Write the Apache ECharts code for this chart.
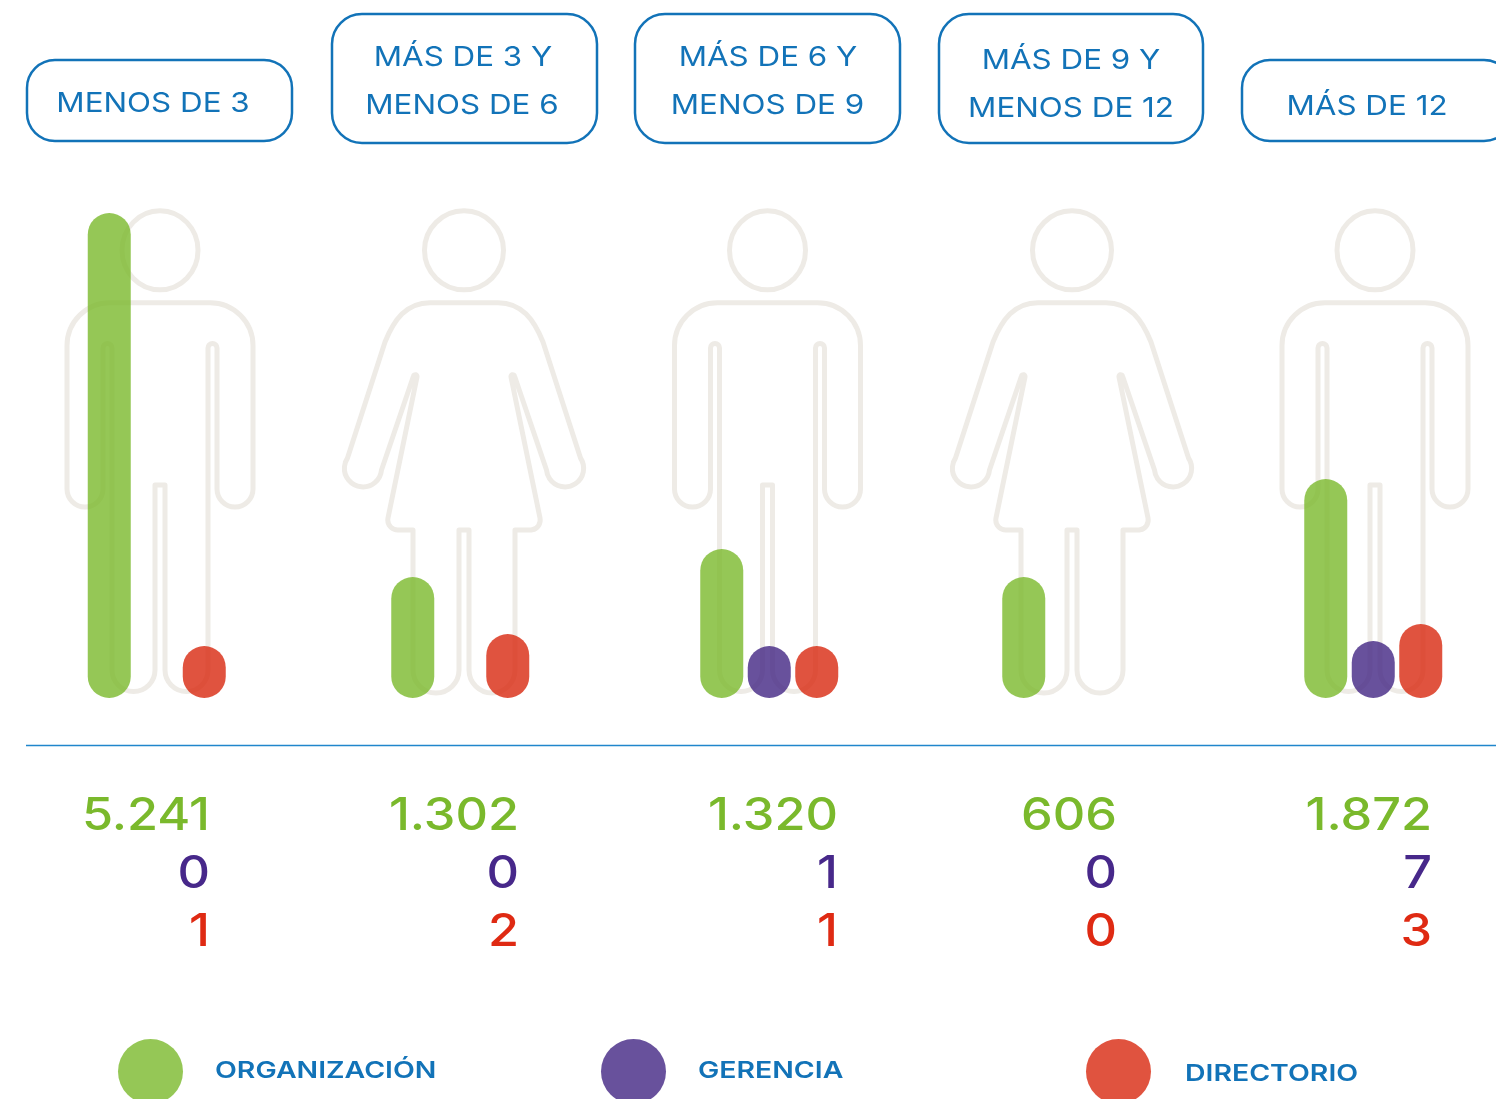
<!DOCTYPE html>
<html>
<head>
<meta charset="utf-8">
<style>html,body{margin:0;padding:0;background:#fff}#c{width:1496px;height:1099px}</style>
<script src="https://cdn.jsdelivr.net/npm/echarts@6/dist/echarts.min.js"></script>
</head>
<body>
<div id="c"></div>
<script>
// ---------- data ----------
const seriesNames = ['ORGANIZACIÓN', 'GERENCIA', 'DIRECTORIO'];
const tenureLabels = [['MENOS DE 3'], ['MÁS DE 3 Y', 'MENOS DE 6'], ['MÁS DE 6 Y', 'MENOS DE 9'], ['MÁS DE 9 Y', 'MENOS DE 12'], ['MÁS DE 12']];
const figures = ['man', 'woman', 'man', 'woman', 'man'];
// printed counts
const organizacion = [5241, 1302, 1320, 606, 1872];
const gerencia = [0, 0, 1, 0, 7];
const directorio = [1, 2, 1, 0, 3];
// bar lengths as drawn in the picture (not proportional to the counts)
const organizacionBars = [485, 121, 149, 121, 219];
const gerenciaBars = [null, null, 52, null, 57];
const directorioBars = [52, 64, 52, null, 74];

// ---------- layout ----------
const BLUE = '#1273b8';
const baseColors = ['#7ab92c', '#422683', '#d8280f'];
const textColors = ['#7ab92c', '#47288a', '#df2a13'];
const barOpacity = 0.8;
const FONT = 'Inter';
const gridLeft = [85.5, 389, 698, 1000, 1302];
const bandWidth = 47.5 * 3;
const figureX = [160, 464, 767.5, 1072, 1375];
const pills = [
  {x: 27, y: 60, w: 265, h: 81, r: 28, t: [[153, 103.5]]},
  {x: 332, y: 14, w: 265, h: 129, r: 30, t: [[463, 58], [462, 105.5]]},
  {x: 635, y: 14, w: 265, h: 129, r: 30, t: [[768, 58], [767.5, 105.5]]},
  {x: 939, y: 14, w: 264, h: 129, r: 30, t: [[1071, 60.5], [1071, 108.5]]},
  {x: 1242, y: 60, w: 270, h: 81, r: 28, t: [[1367, 106.5]]}
];
const numberRight = [210, 519, 838, 1117, 1432];
const numberY = [816, 874, 932];
const legendLeft = [118, 601, 1086];
const legendTextX = [215, 698, 1185];
const legendTextY = [1071, 1071, 1074];

const manPath = 'M-50 302.7L50 302.7A43 43 0 0 1 93 345.7L93 489A18 18 0 0 1 57 489L57 348A4.5 4.5 0 0 0 48 348L48 670A21.5 21.5 0 0 1 5 670L5 485L-5 485L-5 670A21.5 21.5 0 0 1 -48 670L-48 348A4.5 4.5 0 0 0 -57 348L-57 489A18 18 0 0 1 -93 489L-93 345.7A43 43 0 0 1 -50 302.7Z';
const womanPath = 'M-34 302.7L34 302.7C58 302.7 70 320 79 342L116.5 458A18.6 18.6 0 1 1 82.5 470L50.5 376A1.5 1.5 0 0 0 47 377L76 518A10 10 0 0 1 66 530L51 530L51 670A23 23 0 0 1 5 670L5 530L-5 530L-5 670A23 23 0 0 1 -51 670L-51 530L-66 530A10 10 0 0 1 -76 518L-47 377A1.5 1.5 0 0 0 -50.5 376L-82.5 470A18.6 18.6 0 1 1 -116.5 458L-79 342C-70 320 -58 302.7 -34 302.7Z';
echarts.graphic.registerShape('manFigure', echarts.graphic.extendPath(manPath));
echarts.graphic.registerShape('womanFigure', echarts.graphic.extendPath(womanPath));
const OUTLINE = {stroke: '#eeebe6', lineWidth: 5, fill: 'none', lineJoin: 'round'};

const fmt = v => String(v).replace(/\B(?=(\d{3})+$)/g, '.');
const graphics = [];

// figures
figures.forEach((f, i) => {
  graphics.push({type: f === 'man' ? 'manFigure' : 'womanFigure', x: figureX[i], y: 0, z: 0, style: Object.assign({}, OUTLINE)});
  graphics.push({type: 'ellipse', x: figureX[i], y: 250.3, z: 0, shape: {cx: 0, cy: 0, rx: f === 'man' ? 38 : 39.5, ry: 39.5}, style: Object.assign({}, OUTLINE)});
});

// pills
pills.forEach((p, i) => {
  graphics.push({type: 'rect', z: 0, shape: {x: p.x, y: p.y, width: p.w, height: p.h, r: p.r}, style: {stroke: BLUE, lineWidth: 2.5, fill: 'none'}});
  tenureLabels[i].forEach((line, k) => {
    graphics.push({type: 'text', z: 1, x: p.t[k][0], y: p.t[k][1], scaleX: 1.14, style: {text: line, fill: BLUE, font: '400 27.5px ' + FONT, textAlign: 'center', textVerticalAlign: 'middle'}});
  });
});

// baseline
graphics.push({type: 'rect', z: 0, shape: {x: 26, y: 744.7, width: 1470, height: 1.5}, style: {fill: '#2086cc', stroke: 'none'}});

// printed values
[organizacion, gerencia, directorio].forEach((arr, s) => {
  arr.forEach((v, i) => {
    graphics.push({type: 'text', z: 1, x: numberRight[i], y: numberY[s], scaleX: 1.12, style: {text: fmt(v), fill: textColors[s], font: '500 45px ' + FONT, textAlign: 'right', textVerticalAlign: 'middle'}});
  });
});

// legend labels
seriesNames.forEach((name, s) => {
  graphics.push({type: 'text', z: 1, x: legendTextX[s], y: legendTextY[s], scaleX: 1.21, style: {text: name, fill: BLUE, font: '600 23.5px ' + FONT, textAlign: 'left', textVerticalAlign: 'middle'}});
});

// grids + series
const barArrays = [organizacionBars, gerenciaBars, directorioBars];
const grid = [], xAxis = [], yAxis = [], series = [];
gridLeft.forEach((left, g) => {
  grid.push({left: left, top: 198, width: bandWidth, height: 500, containLabel: false});
  xAxis.push({type: 'category', gridIndex: g, show: false, data: seriesNames});
  yAxis.push({type: 'value', gridIndex: g, show: false, min: 0, max: 500});
  seriesNames.forEach((name, s) => {
    series.push({
      type: 'bar', name: name, xAxisIndex: g, yAxisIndex: g, barWidth: 43, barGap: '-100%',
      data: seriesNames.map((_, k) => k === s ? barArrays[s][g] : null),
      itemStyle: {color: baseColors[s], opacity: barOpacity, borderRadius: 21.5},
      silent: true, z: 5
    });
  });
});

const legend = seriesNames.map((name, s) => ({
  data: [name], left: legendLeft[s], top: 1039, padding: 0, itemWidth: 65, itemHeight: 65, icon: 'circle', selectedMode: false,
  orient: 'horizontal', formatter: () => ''
}));

const chart = echarts.init(document.getElementById('c'), null, {renderer: 'canvas', width: 1496, height: 1099});
chart.setOption({animation: false, backgroundColor: '#fff', grid, xAxis, yAxis, series, legend, graphic: {elements: graphics}});
</script>
</body>
</html>
